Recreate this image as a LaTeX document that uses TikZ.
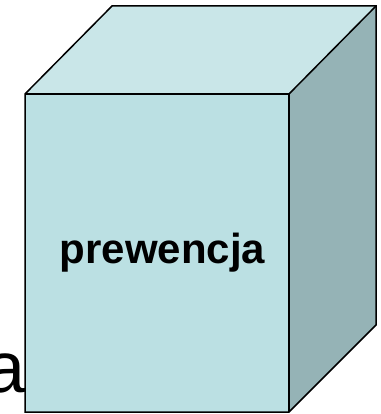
\documentclass[tikz,border=0pt]{standalone}
\usepackage{fontspec}
\setmainfont{Liberation Sans}
\definecolor{frontc}{RGB}{187,224,227}
\definecolor{topc}{RGB}{201,230,232}
\definecolor{sidec}{RGB}{149,179,182}
\begin{document}
\begin{tikzpicture}[x=1pt,y=-1pt,
  face/.style={draw=black,line width=1.5pt,line join=miter}]
\useasboundingbox (0,0) rectangle (380,414);
\clip (0,0) rectangle (380,414);
\node[anchor=base east,inner sep=0pt,font=\fontsize{72}{80}\selectfont] (bg) at (26,392) {a};
\coordinate (f1) at (25,94);
\coordinate (f2) at (289,94);
\coordinate (f3) at (289,412);
\coordinate (f4) at (25,412);
\coordinate (b1) at (112,6);
\coordinate (b2) at (376,6);
\coordinate (b3) at (376,325);
\fill[topc] (f1) -- (b1) -- (b2) -- (f2) -- cycle;
\fill[sidec] (f2) -- (b2) -- (b3) -- (f3) -- cycle;
\fill[frontc] (f1) -- (f2) -- (f3) -- (f4) -- cycle;
\draw[face] (f1) -- (b1) -- (b2) -- (b3) -- (f3) -- (f4) -- cycle;
\draw[face] (f1) -- (f2) -- (f3);
\draw[face] (f2) -- (b2);
\node[anchor=base,inner sep=0pt,font=\fontsize{42}{50}\selectfont\bfseries] (lbl) at (162.5,263) {prewencja};
\end{tikzpicture}
\end{document}
